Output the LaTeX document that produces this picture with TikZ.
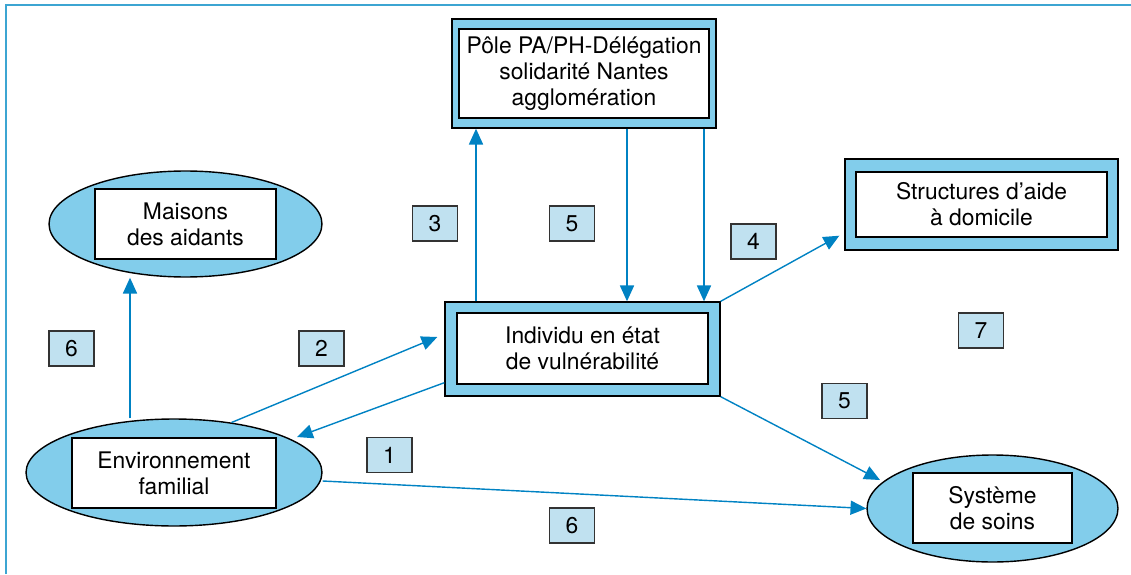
\documentclass[tikz,border=0pt]{standalone}
\usepackage{fontspec}
\setmainfont{TeX Gyre Heros}
\usepackage{xcolor}
\definecolor{colorFrame}{RGB}{60,165,210}
\definecolor{colorFill}{RGB}{130,205,235}
\definecolor{colorNum}{RGB}{192,225,240}
\definecolor{colorArrow}{RGB}{0,130,195}
\usetikzlibrary{arrows.meta, calc, shapes.geometric}
\tikzset{every node/.style={font=\fontsize{13}{14.8}\selectfont, align=center}}

\begin{document}
\begin{tikzpicture}[x=0.02cm, y=-0.02cm, >={Triangle[length=9pt,width=8pt]},
  outer/.style={draw=black, line width=0.8pt, fill=colorFill, inner sep=0pt},
  inner/.style={draw=black, line width=0.8pt, fill=white, inner sep=0pt},
  oval/.style={ellipse, draw=black, line width=0.8pt, fill=colorFill, inner sep=0pt},
  num/.style={draw=black!80, line width=0.6pt, fill=colorNum, minimum width=0.9cm, minimum height=0.7cm, inner sep=0pt},
  link/.style={->, colorArrow, line width=0.8pt}]
\useasboundingbox (0,0) rectangle (1131,574);
\draw[colorFrame, line width=1.3pt] (6,574) -- (6,5) -- (1131,5);

% ovals
\node[oval, minimum width=5.46cm, minimum height=2.12cm] (maisons) at (185.5,224) {};
\node[inner, minimum width=3.62cm, minimum height=1.4cm] (maisons-t) at (185.5,224) {Maisons\\des aidants};
\node[oval, minimum width=5.92cm, minimum height=2.14cm] (env) at (174,472.5) {};
\node[inner, minimum width=4.08cm, minimum height=1.4cm] (env-t) at (174,473) {Environnement\\familial};
\node[oval, minimum width=5.02cm, minimum height=2.14cm] (sys) at (992.5,508.5) {};
\node[inner, minimum width=3.18cm, minimum height=1.4cm] (sys-t) at (992.5,508) {Système\\de soins};

% boxes
\node[outer, minimum width=5.28cm, minimum height=2.18cm] (pole) at (584,73.5) {};
\node[inner, minimum width=5.0cm, minimum height=1.78cm] (pole-t) at (584,73.5) {Pôle PA/PH-Délégation\\solidarité Nantes\\agglomération};
\node[outer, minimum width=5.5cm, minimum height=1.88cm] (indiv) at (582.5,349) {};
\node[inner, minimum width=5.02cm, minimum height=1.42cm] (indiv-t) at (582.5,348.5) {Individu en état\\de vulnérabilité};
\node[outer, minimum width=5.46cm, minimum height=1.82cm] (struct) at (981.5,204.5) {};
\node[inner, minimum width=5.02cm, minimum height=1.3cm] (struct-t) at (981.5,204.5) {Structures d’aide\\à domicile};

% numbers
\node[num] (n1) at (389.5,455) {1};
\node[num] (n2) at (321.5,348.5) {2};
\node[num] (n3) at (435,223.5) {3};
\node[num] (n4) at (753.5,241.5) {4};
\node[num] (n5a) at (572,223.5) {5};
\node[num] (n5b) at (844.5,401) {5};
\node[num] (n6a) at (71.5,348.5) {6};
\node[num] (n6b) at (572,525.5) {6};
\node[num] (n7) at (981,330.5) {7};

% links
\draw[link] (env.north -| 130,0) -- (maisons.south -| 130,0);
\draw[link] (env.41.5) -- ($(indiv.west)+(-7,-12)$);
\draw[link] ($(indiv.south west)+(0,-14)$) -- ($(env.center)+(123,-35.5)$);
\draw[link] (indiv.north -| 476,0) -- (pole.south -| 476,0);
\draw[link] (pole.south -| 627,0) -- (indiv.north -| 627,0);
\draw[link] (pole.south -| 704,0) -- (indiv.north -| 704,0);
\draw[link] (indiv.north east) -- ($(struct.south west)+(-5,-15)$);
\draw[link] (indiv.south east) -- ($(sys.center)+(-112.5,-28.5)$);
\draw[link] ($(env.east)+(0,8.5)$) -- (sys.west);
\end{tikzpicture}
\end{document}
